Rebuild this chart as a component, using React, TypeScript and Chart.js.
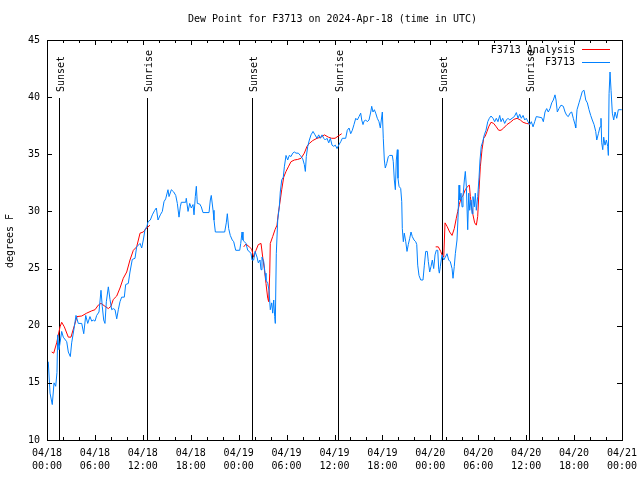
import React, { useEffect, useRef } from 'react';
import { Chart, registerables } from 'chart.js';

Chart.register(...registerables);

const FONT = '"DejaVu Sans Mono", "Liberation Mono", monospace';

const chartTitle = 'Dew Point for F3713 on 2024-Apr-18 (time in UTC)';
const yAxisTitle = 'degrees F';
const seriesNames = ['F3713 Analysis', 'F3713'];

// x axis ticks (hours since 04/18 00:00 UTC)
const xTickHours = [0, 6, 12, 18, 24, 30, 36, 42, 48, 54, 60, 66, 72];
const xTickDates = ['04/18', '04/18', '04/18', '04/18', '04/19', '04/19', '04/19', '04/19', '04/20', '04/20', '04/20', '04/20', '04/21'];
const xTickTimes = ['00:00', '06:00', '12:00', '18:00', '00:00', '06:00', '12:00', '18:00', '00:00', '06:00', '12:00', '18:00', '00:00'];
const yTicks = [10, 15, 20, 25, 30, 35, 40, 45];

// sunrise / sunset markers (hours)
const sunHours = [1.54, 12.48, 25.63, 36.48, 49.5, 60.4];
const sunLabels = ['Sunset', 'Sunrise', 'Sunset', 'Sunrise', 'Sunset', 'Sunrise'];

// F3713 observations
const obsHours = [
  0.16, 0.38, 0.66, 0.88, 1.09, 1.25, 1.34, 1.50, 1.63, 1.84,
  2.04, 2.47, 2.67, 2.92, 3.09, 3.42, 3.63, 3.92, 4.35, 4.60,
  4.85, 5.10, 5.38, 5.60, 5.80, 6.01, 6.22, 6.51, 6.76, 6.92,
  7.10, 7.26, 7.43, 7.68, 7.89, 8.10, 8.30, 8.52, 8.73, 8.93,
  9.14, 9.35, 9.68, 9.85, 10.18, 10.39, 10.68, 11.02, 11.23, 11.65,
  11.86, 12.06, 12.27, 12.52, 12.65, 12.94, 13.19, 13.49, 13.69, 13.90,
  14.19, 14.44, 14.65, 14.86, 15.15, 15.28, 15.57, 15.87, 16.12, 16.32,
  16.53, 16.69, 16.82, 17.37, 17.44, 17.66, 17.87, 18.07, 18.28, 18.41,
  18.57, 18.70, 18.82, 19.12, 19.32, 19.53, 20.29, 20.45, 20.57, 20.79,
  20.91, 21.08, 22.25, 22.45, 22.58, 22.75, 22.95, 23.20, 23.38, 23.63,
  24.13, 24.26, 24.42, 24.54, 24.71, 24.92, 25.13, 25.33, 25.55, 25.67,
  25.88, 26.05, 26.30, 26.46, 26.67, 26.80, 26.92, 27.14, 27.30, 27.42,
  27.64, 27.80, 27.96, 28.14, 28.26, 28.39, 28.51, 28.59, 28.71, 28.89,
  29.09, 29.21, 29.39, 29.59, 29.72, 29.93, 30.14, 30.34, 30.55, 30.77,
  30.97, 31.18, 31.47, 31.72, 32.02, 32.22, 32.35, 32.47, 32.65, 32.85,
  33.06, 33.31, 33.56, 33.81, 34.02, 34.22, 34.44, 34.65, 34.85, 35.06,
  35.28, 35.48, 35.69, 35.90, 36.10, 36.32, 36.53, 36.78, 36.98, 37.40,
  37.60, 37.82, 38.03, 38.23, 38.44, 38.66, 38.86, 39.07, 39.28, 39.41,
  39.57, 39.70, 39.91, 40.11, 40.32, 40.54, 40.66, 40.82, 40.99, 41.16,
  41.36, 41.57, 41.74, 41.86, 41.99, 42.11, 42.24, 42.36, 42.54, 42.74,
  42.91, 43.24, 43.36, 43.49, 43.62, 43.74, 43.87, 43.95, 44.08, 44.29,
  44.42, 44.49, 44.62, 44.74, 44.92, 45.08, 45.24, 45.42, 45.58, 45.74,
  45.96, 46.17, 46.30, 46.42, 46.58, 46.80, 47.08, 47.25, 47.42, 47.62,
  47.75, 47.92, 48.09, 48.25, 48.42, 48.59, 48.75, 48.93, 49.05, 49.13,
  49.25, 49.46, 49.68, 49.88, 50.09, 50.30, 50.50, 50.72, 50.84, 51.00,
  51.13, 51.34, 51.47, 51.59, 51.68, 51.84, 51.97, 52.09, 52.26, 52.38,
  52.51, 52.68, 52.81, 52.93, 53.09, 53.22, 53.34, 53.51, 53.63, 53.76,
  53.93, 54.10, 54.22, 54.38, 54.56, 54.76, 54.97, 55.19, 55.39, 55.60,
  55.85, 56.06, 56.26, 56.47, 56.69, 56.85, 57.06, 57.31, 57.52, 57.73,
  57.94, 58.23, 58.52, 58.77, 58.98, 59.19, 59.39, 59.61, 59.82, 60.02,
  60.23, 60.44, 60.65, 60.86, 61.07, 61.27, 61.95, 62.15, 62.36, 62.57,
  62.77, 62.99, 63.20, 63.40, 63.61, 63.74, 63.90, 64.11, 64.36, 64.65,
  64.87, 65.08, 65.28, 65.49, 65.70, 65.90, 66.12, 66.20, 66.37, 66.62,
  66.83, 67.03, 67.25, 67.46, 67.66, 67.87, 68.08, 68.28, 68.50, 68.71,
  68.84, 69.04, 69.25, 69.37, 69.46, 69.59, 69.71, 69.87, 70.04, 70.21,
  70.29, 70.38, 70.50, 70.63, 70.79, 70.96, 71.13, 71.34, 71.54, 71.97,
];
const obsDew = [
  16.85, 14.1, 13.1, 15.0, 14.7, 15.9, 19.2, 17.9, 18.5, 19.5,
  19.0, 18.6, 17.7, 17.3, 18.5, 19.9, 20.9, 20.2, 20.2, 19.3,
  20.9, 20.2, 20.8, 20.4, 20.5, 20.4, 20.9, 21.2, 23.1, 21.7,
  20.5, 20.2, 22.1, 23.4, 22.3, 21.4, 21.5, 21.4, 20.6, 21.4,
  22.1, 22.5, 22.5, 23.6, 23.7, 24.7, 25.8, 25.9, 26.9, 27.2,
  26.8, 27.5, 28.4, 28.7, 29.1, 29.25, 29.7, 30.1, 30.3, 29.25,
  29.7, 30.0, 30.85, 31.1, 31.9, 31.3, 31.9, 31.7, 31.4, 30.7,
  29.5, 30.4, 30.8, 30.8, 31.15, 30.0, 30.7, 30.3, 30.6, 29.7,
  31.3, 32.2, 30.7, 30.65, 30.4, 29.9, 29.9, 31.0, 31.4, 30.1,
  29.25, 28.2, 28.2, 29.0, 29.8, 28.5, 27.9, 27.5, 27.35, 26.6,
  26.6, 27.2, 28.2, 27.5, 27.35, 27.2, 26.6, 26.5, 26.3, 25.75,
  25.75, 26.5, 26.0, 25.5, 25.75, 24.9, 26.0, 25.6, 24.6, 24.0,
  23.7, 23.1, 21.4, 22.0, 21.1, 22.25, 20.8, 20.2, 26.3, 29.25,
  30.4, 31.7, 32.75, 33.0, 33.9, 34.9, 34.5, 34.9, 34.8, 35.1,
  35.2, 35.1, 35.1, 34.9, 34.6, 34.1, 33.5, 34.8, 35.7, 36.25,
  36.7, 37.0, 36.7, 36.4, 36.7, 36.4, 36.7, 36.4, 36.25, 36.4,
  36.0, 36.4, 35.8, 35.7, 35.8, 35.5, 35.8, 36.1, 36.4, 36.4,
  37.1, 37.3, 36.8, 37.1, 37.6, 38.15, 38.0, 38.3, 38.6, 38.0,
  37.6, 37.9, 38.0, 37.85, 38.0, 38.7, 39.2, 38.7, 38.9, 38.6,
  38.15, 37.85, 37.3, 38.0, 38.7, 36.4, 34.5, 33.8, 34.2, 34.8,
  34.9, 34.9, 34.35, 32.75, 31.9, 34.5, 35.4, 32.9, 32.2, 32.0,
  30.85, 28.5, 27.35, 28.1, 27.35, 26.5, 27.1, 27.65, 28.2, 27.8,
  27.5, 27.35, 27.1, 25.3, 24.4, 24.0, 24.0, 25.3, 26.5, 26.5,
  25.6, 24.7, 25.2, 25.75, 25.0, 26.2, 26.6, 26.6, 24.9, 24.6,
  25.2, 26.2, 25.75, 26.0, 26.3, 25.75, 25.6, 25.0, 24.15, 25.2,
  26.3, 27.5, 29.5, 32.3, 31.0, 31.6, 30.4, 31.3, 32.75, 33.5,
  32.2, 28.4, 31.6, 30.1, 31.0, 29.8, 31.3, 30.4, 31.6, 30.1,
  31.3, 33.0, 34.5, 35.7, 36.1, 36.7, 37.1, 37.85, 38.15, 38.35,
  38.15, 37.85, 38.15, 37.85, 38.4, 37.85, 38.15, 37.7, 38.0, 38.15,
  38.0, 38.15, 38.3, 38.65, 38.15, 38.5, 38.15, 38.4, 38.0, 38.15,
  37.85, 37.6, 37.85, 37.4, 37.85, 38.3, 38.2, 37.85, 38.7, 39.0,
  38.7, 39.0, 39.5, 39.75, 40.2, 39.75, 38.7, 39.0, 39.3, 39.2,
  38.7, 38.4, 38.3, 38.6, 38.7, 38.15, 37.6, 37.3, 38.9, 39.5,
  40.0, 40.5, 40.6, 39.75, 39.5, 38.9, 38.4, 38.0, 37.6, 37.0,
  36.25, 36.8, 37.4, 38.15, 36.0, 35.4, 36.5, 35.8, 36.25, 35.7,
  34.9, 40.3, 42.2, 40.6, 38.6, 38.0, 38.7, 38.15, 38.9, 38.9,
];

// F3713 Analysis (night-time segments, null = gap)
const anaHours = [
  0.59, 0.84, 1.21, 1.63, 1.84, 2.17, 2.67, 3.00, 3.42, 3.76,
  4.35, 4.97, 5.60, 6.01, 6.42, 6.76, 7.26, 7.68, 8.01, 8.30,
  8.73, 9.14, 9.55, 9.98, 10.39, 10.81, 11.23, 11.65, 12.06, 12.40,
  12.90, 13.0,
  24.63, 24.92, 25.33, 25.63, 25.88, 26.17, 26.46, 26.80, 27.01, 27.21,
  27.42, 27.64, 27.76, 27.89, 27.96, 28.26, 28.55, 28.80, 28.96, 29.21,
  29.39, 29.64, 29.93, 30.22, 30.55, 30.97, 31.39, 31.81, 32.22, 32.56,
  32.85, 33.27, 33.81, 34.31, 34.73, 35.23, 35.65, 36.07, 36.48, 36.90,
  37.0,
  48.67, 49.00, 49.30, 49.46, 49.68, 49.84, 50.09, 50.42, 50.72, 51.00,
  51.25, 51.43, 51.63, 51.84, 52.09, 52.38, 52.68, 52.89, 53.01, 53.18,
  53.34, 53.55, 53.76, 53.93, 54.10, 54.26, 54.47, 54.68, 54.88, 55.09,
  55.30, 55.60, 55.93, 56.26, 56.56, 56.85, 57.19, 57.60, 58.02, 58.44,
  58.86, 59.27, 59.61, 60.02, 60.44,
];
const anaDew = [
  17.7, 17.6, 18.5, 19.9, 20.3, 19.9, 19.0, 19.0, 20.0, 20.8,
  20.85, 21.1, 21.3, 21.4, 21.8, 21.96, 21.7, 21.5, 21.7, 22.3,
  22.6, 23.3, 24.15, 24.7, 25.75, 26.6, 26.9, 28.1, 28.2, 28.5,
  28.8, null,
  26.9, 27.15, 26.9, 26.7, 26.0, 26.6, 27.1, 27.2, 26.0, 25.0,
  23.7, 22.4, 22.1, 24.6, 27.2, 27.8, 28.4, 28.8, 29.8, 31.0,
  31.9, 33.0, 33.5, 33.9, 34.35, 34.5, 34.55, 34.65, 35.1, 35.7,
  35.95, 36.2, 36.4, 36.5, 36.7, 36.5, 36.4, 36.4, 36.6, 36.8,
  null,
  26.9, 26.9, 26.5, 26.2, 26.0, 29.0, 28.7, 28.2, 27.9, 28.5,
  29.4, 30.0, 30.6, 31.15, 31.4, 31.9, 32.2, 32.3, 31.3, 30.4,
  29.7, 29.0, 28.8, 29.55, 31.9, 33.9, 35.4, 36.4, 36.6, 36.98,
  37.4, 37.8, 37.7, 37.4, 37.1, 37.1, 37.3, 37.6, 37.8, 38.05,
  38.15, 38.0, 37.8, 37.7, 37.65,
];

const RED = '#ff0000';
const BLUE = '#0080ff';

const decorPlugin = {
  id: 'decor',
  beforeDatasetsDraw(chart: any) {
    const { ctx, chartArea: a, scales } = chart;
    const x = scales.x;
    ctx.save();
    ctx.strokeStyle = '#000';
    ctx.lineWidth = 1;
    sunHours.forEach((h) => {
      const px = Math.round(x.getPixelForValue(h)) + 0.5;
      ctx.beginPath();
      ctx.moveTo(px, a.top + 58);
      ctx.lineTo(px, a.bottom);
      ctx.stroke();
    });
    ctx.restore();
  },
  afterDatasetsDraw(chart: any) {
    const { ctx, chartArea: a, scales } = chart;
    const x = scales.x;
    const y = scales.y;
    ctx.save();
    ctx.strokeStyle = '#000';
    ctx.lineWidth = 1;
    // frame
    ctx.strokeRect(a.left + 0.5, a.top + 0.5, a.right - a.left, a.bottom - a.top);
    // x ticks every 2 hours, longer at labelled ones
    ctx.beginPath();
    for (let h = 0; h <= 72; h += 2) {
      const px = Math.round(x.getPixelForValue(h)) + 0.5;
      const len = xTickHours.includes(h) ? 5 : 3;
      ctx.moveTo(px, a.bottom);
      ctx.lineTo(px, a.bottom - len);
      ctx.moveTo(px, a.top);
      ctx.lineTo(px, a.top + len);
    }
    yTicks.forEach((v) => {
      const py = Math.round(y.getPixelForValue(v)) + 0.5;
      ctx.moveTo(a.left, py);
      ctx.lineTo(a.left + 5, py);
      ctx.moveTo(a.right, py);
      ctx.lineTo(a.right - 5, py);
    });
    ctx.stroke();

    ctx.fillStyle = '#000';
    ctx.font = `10px ${FONT}`;
    // sun labels
    sunHours.forEach((h, i) => {
      const px = Math.round(x.getPixelForValue(h)) + 2;
      ctx.save();
      ctx.translate(px, a.top + 52);
      ctx.rotate(-Math.PI / 2);
      ctx.textAlign = 'left';
      ctx.textBaseline = 'middle';
      ctx.fillText(sunLabels[i], 0, 0);
      ctx.restore();
    });
    // title
    ctx.textAlign = 'center';
    ctx.textBaseline = 'middle';
    ctx.fillText(chartTitle, (a.left + a.right) / 2 - 2, 19);
    // y axis title
    ctx.save();
    ctx.translate(10, (a.top + a.bottom) / 2 + 1);
    ctx.rotate(-Math.PI / 2);
    ctx.fillText(yAxisTitle, 0, 0);
    ctx.restore();
    // legend
    const colors = [RED, BLUE];
    seriesNames.forEach((name, i) => {
      const ly = a.top + 10 + i * 12.5;
      ctx.textAlign = 'right';
      ctx.fillStyle = '#000';
      ctx.fillText(name, a.right - 47, ly);
      ctx.strokeStyle = colors[i];
      ctx.beginPath();
      ctx.moveTo(a.right - 40, Math.round(ly) - 0.5);
      ctx.lineTo(a.right - 12, Math.round(ly) - 0.5);
      ctx.stroke();
    });
    ctx.restore();
  },
};

export default function App() {
  const ref = useRef<HTMLCanvasElement>(null);
  useEffect(() => {
    const canvas = ref.current;
    if (!canvas) return;
    const chart = new Chart(canvas, {
      type: 'line',
      data: {
        datasets: [
          {
            label: seriesNames[0],
            data: anaHours.map((h, i) => ({ x: h, y: anaDew[i] })),
            borderColor: RED,
            borderWidth: 1,
            pointRadius: 0,
            tension: 0,
            spanGaps: false,
            order: 2,
          },
          {
            label: seriesNames[1],
            data: obsHours.map((h, i) => ({ x: h, y: obsDew[i] })),
            borderColor: BLUE,
            borderWidth: 1,
            pointRadius: 0,
            tension: 0,
            order: 1,
          },
        ],
      } as any,
      options: {
        responsive: false,
        animation: false,
        devicePixelRatio: 1,
        layout: { padding: { left: 0, right: 18, top: 40, bottom: 0 } },
        plugins: {
          legend: { display: false },
          title: { display: false },
          tooltip: { enabled: false },
        },
        scales: {
          x: {
            type: 'linear',
            min: 0,
            max: 72,
            afterFit: (s: any) => {
              s.height = 40;
              s.paddingLeft = 0;
              s.paddingRight = 0;
            },
            afterBuildTicks: (s: any) => {
              s.ticks = xTickHours.map((v) => ({ value: v }));
            },
            ticks: {
              autoSkip: false,
              maxRotation: 0,
              minRotation: 0,
              padding: 7,
              color: '#000',
              font: { family: FONT, size: 10, lineHeight: 1.3 },
              callback: (_v: any, i: number) => [xTickDates[i], xTickTimes[i]],
            },
            grid: { display: false, drawTicks: false },
            border: { display: false },
          },
          y: {
            type: 'linear',
            min: 10,
            max: 45,
            afterFit: (s: any) => {
              s.width = 47;
              s.paddingTop = 0;
              s.paddingBottom = 0;
            },
            afterBuildTicks: (s: any) => {
              s.ticks = yTicks.map((v) => ({ value: v }));
            },
            ticks: {
              padding: 7,
              color: '#000',
              font: { family: FONT, size: 10 },
              callback: (v: any) => String(v),
            },
            grid: { display: false, drawTicks: false },
            border: { display: false },
          },
        },
      } as any,
      plugins: [decorPlugin],
    });
    return () => chart.destroy();
  }, []);

  return (
    <div style={{ position: 'fixed', left: 0, top: 0, width: 640, height: 480, background: '#fff' }}>
      <canvas ref={ref} width={640} height={480} style={{ display: 'block' }} />
    </div>
  );
}
